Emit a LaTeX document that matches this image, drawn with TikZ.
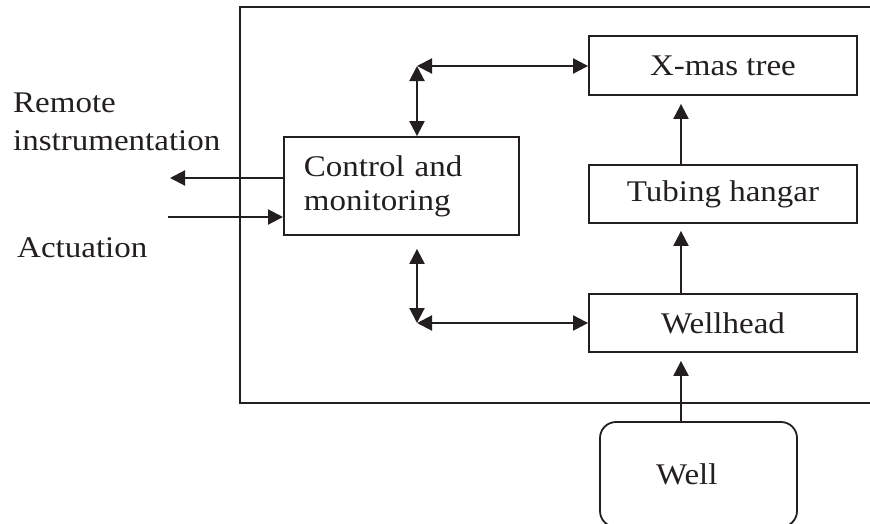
\documentclass[tikz,border=0pt]{standalone}
\usepackage{fontspec}
\setmainfont{Liberation Serif}[FakeStretch=1.1]
\usetikzlibrary{arrows.meta}
\definecolor{ink}{RGB}{35,31,32}

\begin{document}
\begin{tikzpicture}[x=1pt, y=-1pt,
  box/.style={rectangle, draw=ink, line width=1.8pt, text=ink, font=\fontsize{30}{34}\selectfont, inner sep=0pt},
  arrow/.style={-{Triangle[length=15pt,width=15pt]}, line width=2.1pt, draw=ink},
  biarrow/.style={{Triangle[length=15pt,width=15pt]}-{Triangle[length=15pt,width=15pt]}, line width=2.1pt, draw=ink},
  label/.style={font=\fontsize{30}{38}\selectfont, text=ink, align=left, inner sep=0pt},
]
\clip (0,0) rectangle (870,523);

% === SUBSEA WELL SYSTEM ===
\draw[ink, line width=2.4pt] (875,7) -- (240,7) -- (240,403) -- (875,403);

\node[box, minimum width=268pt, minimum height=59pt] (xmas) at (723,65.5) {X-mas tree};
\node[box, minimum width=268pt, minimum height=58pt] (tubing) at (723,194) {Tubing hangar};
\node[box, minimum width=268pt, minimum height=58pt] (wellhead) at (723,323) {Wellhead};

\node[box, anchor=west, text width=195pt, inner xsep=20pt, minimum height=98pt, align=left] (ctrl) at (283,186) {Control and\\monitoring};

\node[box, rounded corners=16pt, text width=85pt, inner xsep=56pt, minimum height=105pt, align=left] (well) at (698.5,474.5) {Well};

% outside signals
\node[label, anchor=base west] (remote) at (13,150) {Remote\\instrumentation};
\node[label, anchor=base west] (actuation) at (17,257) {Actuation};

\coordinate (topc) at (417,66);
\coordinate (botc) at (417,323);
\coordinate (remout) at (170,178);
\coordinate (actin) at (168,217);

\draw[arrow] (ctrl.west |- remout) -- (remout);
\draw[arrow] (actin) -- (ctrl.west |- actin);

\draw[biarrow] (topc |- ctrl.north) -- (topc);
\draw[biarrow] (topc) -- (topc -| xmas.west);
\draw[biarrow, shorten <=13pt] (botc |- ctrl.south) -- (botc);
\draw[biarrow] (botc) -- (botc -| wellhead.west);

\draw[arrow, shorten >=8pt] ([xshift=-42pt]tubing.north) -- ([xshift=-42pt]xmas.south);
\draw[arrow, shorten >=7pt] ([xshift=-42pt]wellhead.north) -- ([xshift=-42pt]tubing.south);
\draw[arrow, shorten >=8pt] ([xshift=-17.5pt]well.north) -- ([xshift=-42pt]wellhead.south);
\end{tikzpicture}
\end{document}
